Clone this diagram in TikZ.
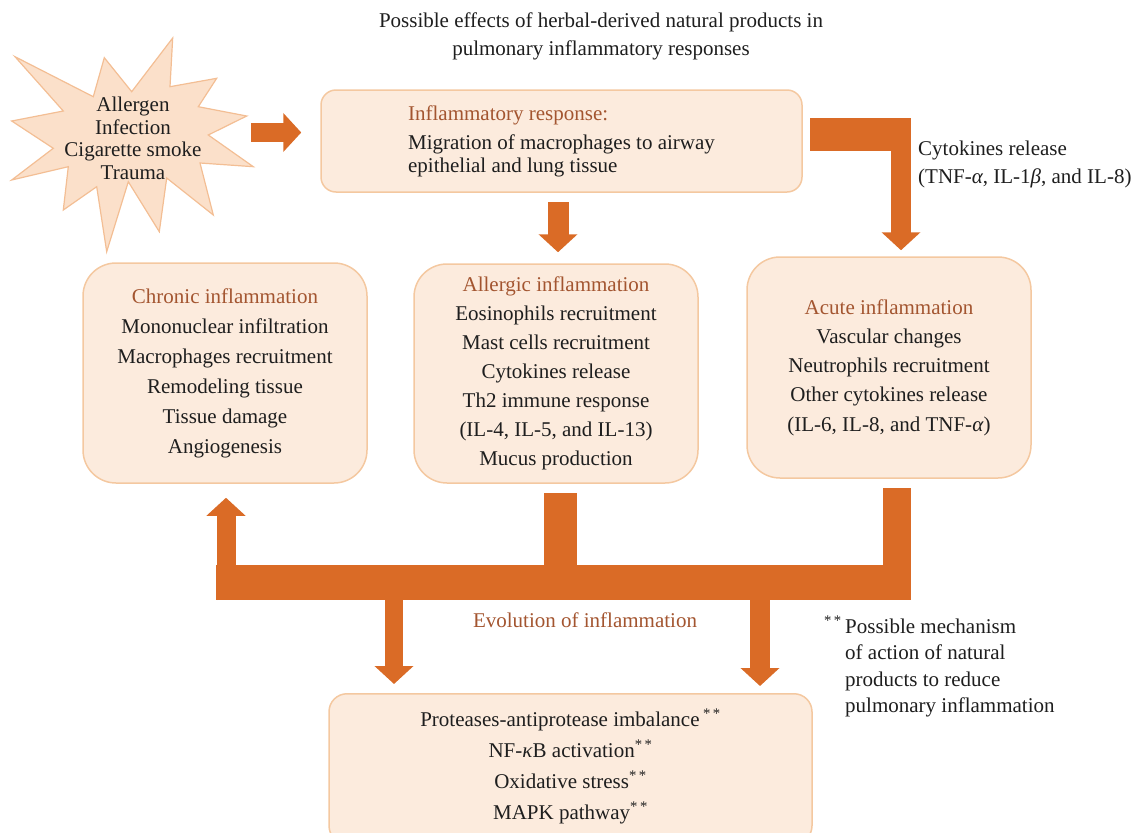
\documentclass[tikz,border=0pt]{standalone}
\usepackage{fontspec}
\setmainfont{Liberation Serif}
\usetikzlibrary{arrows.meta,calc}
\definecolor{arr}{RGB}{218,107,38}
\definecolor{boxfill}{RGB}{252,235,221}
\definecolor{boxline}{RGB}{244,200,160}
\definecolor{starfill}{RGB}{251,224,202}
\definecolor{starline}{RGB}{243,190,148}
\definecolor{brn}{RGB}{163,85,48}
\definecolor{txt}{RGB}{30,30,30}
\begin{document}
\begin{tikzpicture}[x=1pt,y=-1pt,
  box/.style={draw=boxline, fill=boxfill, line width=1.5pt, align=center, text=txt,
    font=\fontsize{21}{29.5}\selectfont, inner sep=0pt},
  bigarrow/.style={draw=arr, line width=20pt, -{Triangle[width=38pt,length=18pt]}},
  bar/.style={fill=arr},
  lbl/.style={text=txt, font=\fontsize{21}{28}\selectfont, inner sep=0pt},
  hd/.style={text=brn}
]
\useasboundingbox (0,0) rectangle (1133,833);

% title
\node[lbl, align=center] (title) at (601,36)
  {Possible effects of herbal-derived natural products in\\pulmonary inflammatory responses};

% starburst
\draw[fill=starfill, draw=starline, line width=1.2pt]
  (11.7,121) -- (63.3,111) -- (15,56.7) -- (93.3,96.7) -- (104.3,57.7) -- (131.7,91.7)
  -- (172.7,38) -- (170,86.7) -- (216.7,78.3) -- (198.3,106.7) -- (246.7,116)
  -- (208.3,135) -- (253.3,166.7) -- (200,163) -- (213.3,215) -- (166.7,178)
  -- (159.3,231.7) -- (128.3,181.7) -- (106.7,251.7) -- (96.7,186.7) -- (63.3,210)
  -- (68.3,166.7) -- (11.7,180) -- (53.3,148.3) -- cycle;
\node[lbl, align=center, font=\fontsize{21}{22.5}\selectfont] (src) at (133,138.5)
  {Allergen\\Infection\\Cigarette smoke\\Trauma};

% boxes
\node[box, rounded corners=15pt, minimum width=481pt, minimum height=102pt] (inf) at (561.5,141)
  {\begin{tabular}{@{}l@{}}\textcolor{brn}{Inflammatory response:}\\[-1pt]
   Migration of macrophages to airway\\[-6pt] epithelial and lung tissue\end{tabular}};

\node[box, rounded corners=33pt, minimum width=284pt, minimum height=220pt,
  font=\fontsize{21}{30}\selectfont] (chr) at (225,373)
  {\textcolor{brn}{Chronic inflammation}\\Mononuclear infiltration\\Macrophages recruitment\\
   Remodeling tissue\\Tissue damage\\Angiogenesis};

\node[box, rounded corners=33pt, minimum width=284pt, minimum height=219pt,
  font=\fontsize{21}{29}\selectfont] (all) at (556,373.5)
  {\textcolor{brn}{Allergic inflammation}\\Eosinophils recruitment\\Mast cells recruitment\\
   Cytokines release\\Th2 immune response\\(IL-4, IL-5, and IL-13)\\Mucus production};

\node[box, rounded corners=33pt, minimum width=284pt, minimum height=221pt,
  font=\fontsize{21}{29.3}\selectfont] (acu) at (889,367.5)
  {\textcolor{brn}{Acute inflammation}\\Vascular changes\\Neutrophils recruitment\\
   Other cytokines release\\(IL-6, IL-8, and TNF-\textit{α})};

\begin{scope}
\clip (0,0) rectangle (1133,833);
\node[box, rounded corners=18pt, minimum width=483pt, minimum height=150pt,
  font=\fontsize{21}{31}\selectfont, anchor=north] (bot) at (570.5,693) {};
\end{scope}
\node[lbl, align=center, font=\fontsize{21}{31}\selectfont] (bottxt) at (570.5,766.5)
  {Proteases-antiprotease imbalance\,\textsuperscript{*\,*}\\
   NF-\textit{κ}B activation\textsuperscript{*\,*}\\
   Oxidative stress\textsuperscript{*\,*}\\
   MAPK pathway\textsuperscript{*\,*}};

% labels
\node[lbl, align=left, anchor=west] (cyt) at (918,164)
  {Cytokines release\\(TNF-\textit{α}, IL-1\textit{β}, and IL-8)};
\node[lbl, text=brn] (evo) at (585,620) {Evolution of inflammation};
\node[lbl, align=left, anchor=west, font=\fontsize{21}{26.5}\selectfont] (note) at (845,666.5)
  {\llap{\textsuperscript{*\,*}\,}Possible mechanism\\of action of natural\\products to reduce\\pulmonary inflammation};

% connectors
\coordinate (srcR) at (251,132.5);
\draw[bigarrow, line width=19pt, shorten >=19pt] (srcR) -- (srcR -| inf.west);

\coordinate (infB) at (558,192);
\draw[bigarrow, line width=21pt, shorten <=10pt, shorten >=11pt] (infB) -- (infB |- all.north);

% cytokines L-arrow
\coordinate (cytA) at (810,118);
\coordinate (cytB) at (911,151);
\fill[bar] (cytA) rectangle (cytB);
\coordinate (cytV) at (901,118);
\draw[bigarrow, shorten >=6pt] (cytV) -- (cytV |- acu.north);

% evolution structure
\coordinate (barL) at (216,565);
\coordinate (barR) at (911,600);
\fill[bar] (barL) rectangle (barR);
\fill[bar] ($(all.south)+(-12,9)$) rectangle ($(all.south |- barL)+(21,1)$);
\fill[bar] ($(acu.south)+(-6,9)$) rectangle ($(barR |- barL)+(0,1)$);
\coordinate (upS) at (226,600);
\draw[bigarrow, line width=19pt, shorten >=14pt] (upS) -- (upS |- chr.south);
\coordinate (dn1) at (394,599);
\draw[bigarrow, line width=18pt, shorten >=9pt] (dn1) -- (dn1 |- bot.north);
\coordinate (dn2) at (760,599);
\draw[bigarrow, shorten >=7pt] (dn2) -- (dn2 |- bot.north);
\end{tikzpicture}
\end{document}
